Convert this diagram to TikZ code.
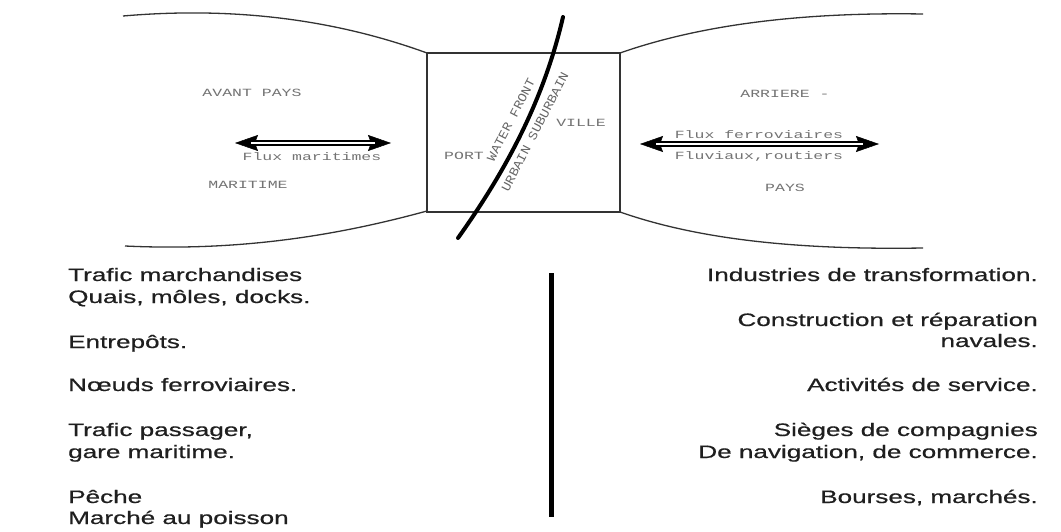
\documentclass[tikz,border=0pt]{standalone}
\usepackage{fontspec}
\setmainfont{Liberation Sans}
\newfontfamily\listfont[FakeStretch=1.45,FakeBold=0.6]{Liberation Sans}
\newfontfamily\typefont[FakeStretch=1.5]{Liberation Mono}
\newfontfamily\frontfont[FakeStretch=1.1]{Liberation Mono}
\usetikzlibrary{arrows.meta}

\begin{document}
\begin{tikzpicture}[x=1pt,y=-1pt,
  outline/.style={draw=black!80, line width=1.3pt},
  frontline/.style={draw=black, line width=4pt, line cap=round},
  divider/.style={draw=black, line width=5pt},
  tw/.style={text=black!55, font=\typefont\fontsize{11}{13}\selectfont, inner sep=0pt},
  twfront/.style={text=black!60, font=\frontfont\fontsize{12.5}{14}\selectfont, inner sep=0pt, rotate=62.6},
  item/.style={text=black!88, font=\listfont\fontsize{18}{22}\selectfont, inner sep=0pt},
  itemL/.style={item, anchor=base west},
  itemR/.style={item, anchor=base east},
  fluxheads/.style={draw=black, line width=0.5pt,
    {Stealth[length=23pt,width=16pt,inset=3pt]}-{Stealth[length=23pt,width=16pt,inset=3pt]}},
  fluxshaft/.style={draw=black, line width=1.5pt, double=white, double distance=2.4pt,
    shorten <=16pt, shorten >=16pt},
]
\useasboundingbox (0,0) rectangle (1061,532);

% avant-pays (left lobe)
\draw[outline] (427,53) .. controls (350,25) and (250,5) .. (123,16);
\draw[outline] (427,211) .. controls (350,232) and (250,252) .. (125,246);

% port / ville box
\draw[outline] (427,53) rectangle (620,212);

% arriere-pays (right lobe)
\draw[outline] (620,53) .. controls (700,25) and (800,12) .. (923,14);
\draw[outline] (620,212) .. controls (700,240) and (800,250) .. (923,248);

% waterfront line
\draw[frontline] (563,17) .. controls (545,95) and (510,165) .. (458,238);
\node[twfront] (wf) at (511,120) {WATER FRONT};
\node[twfront] (us) at (535,132) {URBAIN SUBURBAIN};

% labels in the upper scheme
\node[tw] (avant) at (252,93) {AVANT PAYS};
\node[tw] (mar) at (248,185) {MARITIME};
\node[tw] (fm) at (312,157) {Flux maritimes};
\node[tw] (port) at (464,156) {PORT};
\node[tw] (ville) at (581,123) {VILLE};
\node[tw] (arr) at (785,94) {ARRIERE -};
\node[tw] (ff) at (759,135) {Flux ferroviaires};
\node[tw] (fr) at (759,156) {Fluviaux,routiers};
\node[tw] (pays) at (785,188) {PAYS};

% flux arrows
\coordinate (mA) at (235,143);
\coordinate (mB) at (391,143);
\coordinate (tA) at (640,144);
\coordinate (tB) at (879,144);
\draw[fluxheads] (mA) -- (mB);
\draw[fluxshaft] (mA) -- (mB);
\draw[fluxheads] (tA) -- (tB);
\draw[fluxshaft] (tA) -- (tB);

% separator between the two lists
\coordinate (dT) at (551,273);
\coordinate (dB) at (551,517);
\draw[divider] (dT) -- (dB);

% port activities
\node[itemL] (l1) at (68,281) {Trafic marchandises};
\node[itemL] (l2) at (68,303) {Quais, môles, docks.};
\node[itemL] (l3) at (68,348) {Entrepôts.};
\node[itemL] (l4) at (68,391) {Nœuds ferroviaires.};
\node[itemL] (l5) at (68,436) {Trafic passager,};
\node[itemL] (l6) at (68,458) {gare maritime.};
\node[itemL] (l7) at (68,503) {Pêche};
\node[itemL] (l8) at (68,524) {Marché au poisson};

% city activities
\node[itemR] (r1) at (1038,281) {Industries de transformation.};
\node[itemR] (r2) at (1038,326) {Construction et réparation};
\node[itemR] (r3) at (1038,347) {navales.};
\node[itemR] (r4) at (1038,391) {Activités de service.};
\node[itemR] (r5) at (1038,436) {Sièges de compagnies};
\node[itemR] (r6) at (1038,458) {De navigation, de commerce.};
\node[itemR] (r7) at (1038,503) {Bourses, marchés.};
\end{tikzpicture}
\end{document}
